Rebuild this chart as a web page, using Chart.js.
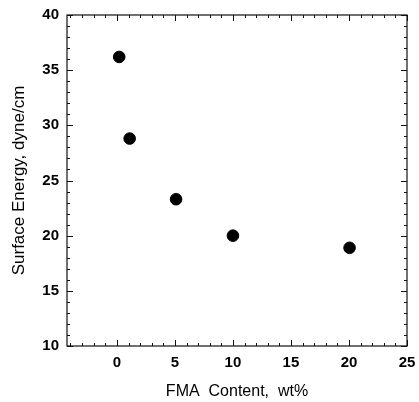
<!DOCTYPE html>
<html><head><meta charset="utf-8">
<script src="https://cdn.jsdelivr.net/npm/chart.js@4.4.1/dist/chart.umd.min.js"></script>
<style>html,body{margin:0;padding:0;background:#fff;overflow:hidden}#w{width:419px;height:402px;position:relative}canvas{display:block}</style>
</head><body><div id="w"><canvas id="c"></canvas></div>
<script>
const fmaContent = [0.2, 1.1, 5.1, 10.0, 20.05];
const surfaceEnergy = [36.2, 28.8, 23.3, 20.0, 18.9];
const xTicks = [0, 5, 10, 15, 20, 25];
const yTicks = [10, 15, 20, 25, 30, 35, 40];
const xTitle = 'FMA  Content,  wt%';
const yTitle = 'Surface Energy, dyne/cm';

const frame = {
  id: 'frame',
  afterDatasetsDraw(chart) {
    const {ctx, chartArea: a, scales: {x, y}} = chart;
    ctx.save();
    ctx.strokeStyle = '#111';
    ctx.lineWidth = 1.2;
    ctx.strokeRect(a.left, a.top, a.right - a.left, a.bottom - a.top);
    ctx.lineWidth = 1;
    ctx.beginPath();
    for (let v = Math.ceil(x.min); v <= x.max; v++) {
      const p = Math.round(x.getPixelForValue(v)) + 0.5;
      const L = (v % 5 === 0) ? 6 : 3;
      ctx.moveTo(p, a.bottom); ctx.lineTo(p, a.bottom - L);
      ctx.moveTo(p, a.top); ctx.lineTo(p, a.top + L);
    }
    for (let v = y.min; v <= y.max; v++) {
      const p = Math.round(y.getPixelForValue(v)) + 0.5;
      const L = (v % 5 === 0) ? 6 : 3;
      ctx.moveTo(a.left, p); ctx.lineTo(a.left + L, p);
      ctx.moveTo(a.right, p); ctx.lineTo(a.right - L, p);
    }
    ctx.stroke();
    ctx.restore();
  }
};

new Chart(document.getElementById('c'), {
  type: 'scatter',
  data: {
    datasets: [{
      data: fmaContent.map((v, i) => ({x: v, y: surfaceEnergy[i]})),
      backgroundColor: '#000',
      borderColor: '#000',
      pointRadius: 5.8,
      pointHoverRadius: 5.8
    }]
  },
  options: {
    responsive: true,
    maintainAspectRatio: false,
    animation: false,
    layout: {padding: {left: 9, right: 12, top: 15, bottom: 1}},
    plugins: {legend: {display: false}, tooltip: {enabled: false}},
    scales: {
      x: {
        type: 'linear', min: -4.3, max: 25,
        afterBuildTicks: s => { s.ticks = xTicks.map(v => ({value: v})); },
        afterFit: s => { s.height = 55; s.paddingLeft = 0; s.paddingRight = 0; },
        grid: {display: false, drawTicks: false},
        border: {display: false},
        ticks: {color: '#000', padding: 8, font: {family: 'Liberation Sans', size: 15, weight: 'bold'}},
        title: {display: true, text: xTitle, color: '#000', padding: {top: 4, bottom: 0}, font: {family: 'Liberation Sans', size: 16}}
      },
      y: {
        type: 'linear', min: 10, max: 40,
        afterBuildTicks: s => { s.ticks = yTicks.map(v => ({value: v})); },
        afterFit: s => { s.width = 58; s.paddingTop = 0; s.paddingBottom = 0; },
        grid: {display: false, drawTicks: false},
        border: {display: false},
        ticks: {color: '#000', padding: 8, font: {family: 'Liberation Sans', size: 15, weight: 'bold'}},
        title: {display: true, text: yTitle, color: '#000', padding: {top: 0, bottom: 4}, font: {family: 'Liberation Sans', size: 17}}
      }
    }
  },
  plugins: [frame]
});
</script></body></html>
